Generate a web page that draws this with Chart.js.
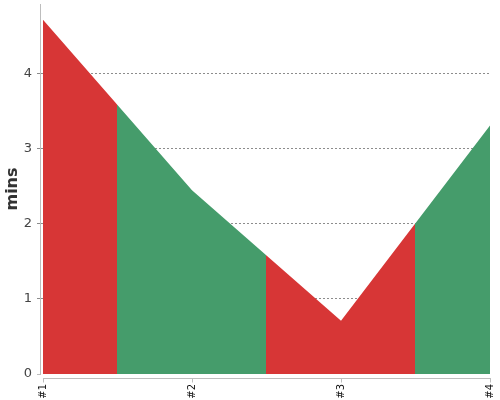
<!DOCTYPE html>
<html>
<head>
<meta charset="utf-8">
<script src="https://cdn.jsdelivr.net/npm/chart.js@4/dist/chart.umd.min.js"></script>
<style>
  html, body { margin: 0; padding: 0; background: #fff; }
  #wrap { width: 500px; height: 400px; }
</style>
</head>
<body>
<div id="wrap"><canvas id="chart"></canvas></div>
<script>
    // chart data
    const categories = ['#1', '#2', '#3', '#4'];
    const minutes = [4.72, 2.45, 0.71, 3.31];
    const bandColors = ['#d73636', '#459c6b', '#d73636', '#459c6b'];
    const yTicks = [0, 1, 2, 3, 4];

    const AXIS_COLOR = '#bdbdbd';

    // fill colour changes half way between categories
    function bandFill(context) {
        const chart = context.chart;
        const area = chart.chartArea;
        const xs = chart.scales.x;
        if (!area || !xs) return bandColors[0];
        const g = chart.ctx.createLinearGradient(area.left, 0, area.right, 0);
        const w = area.right - area.left;
        for (let i = 0; i < categories.length; i++) {
            const from = i === 0 ? area.left : (xs.getPixelForTick(i - 1) + xs.getPixelForTick(i)) / 2;
            const to = i === categories.length - 1 ? area.right : (xs.getPixelForTick(i) + xs.getPixelForTick(i + 1)) / 2;
            g.addColorStop(Math.max(0, Math.min(1, (from - area.left) / w)), bandColors[i]);
            g.addColorStop(Math.max(0, Math.min(1, (to - area.left) / w)), bandColors[i]);
        }
        return g;
    }

    const axisLines = {
        id: 'axisLines',
        afterDraw(chart) {
            const ctx = chart.ctx;
            const a = chart.chartArea;
            const xs = chart.scales.x;
            const ys = chart.scales.y;
            ctx.save();
            ctx.strokeStyle = AXIS_COLOR;
            ctx.lineWidth = 1;
            ctx.beginPath();
            // y axis, a little left of the plot
            ctx.moveTo(a.left - 2.5, a.top);
            ctx.lineTo(a.left - 2.5, a.bottom + 1);
            // zero tick
            const y0 = Math.round(ys.getPixelForValue(0)) + 0.5;
            ctx.moveTo(a.left - 6, y0);
            ctx.lineTo(a.left - 2, y0);
            // x axis, a little below the plot
            const yx = a.bottom + 4.5;
            ctx.moveTo(a.left, yx);
            ctx.lineTo(a.right + 1, yx);
            for (let i = 0; i < categories.length; i++) {
                const px = Math.round(xs.getPixelForTick(i)) + 0.5;
                ctx.moveTo(px, yx);
                ctx.lineTo(px, yx + 4);
            }
            ctx.stroke();
            ctx.restore();
        }
    };

    new Chart(document.getElementById('chart').getContext('2d'), {
        type: 'line',
        data: {
            labels: categories,
            datasets: [{
                data: minutes,
                fill: 'origin',
                backgroundColor: bandFill,
                borderWidth: 0,
                borderColor: 'rgba(0,0,0,0)',
                pointRadius: 0,
                tension: 0
            }]
        },
        options: {
            responsive: true,
            maintainAspectRatio: false,
            animation: false,
            layout: { padding: { left: 0, right: 10, top: 4, bottom: 0 } },
            plugins: {
                legend: { display: false },
                tooltip: { enabled: false }
            },
            scales: {
                x: {
                    offset: false,
                    grid: { display: false, drawTicks: false },
                    border: { display: false },
                    ticks: {
                        maxRotation: 90,
                        minRotation: 90,
                        padding: 10,
                        color: '#111',
                        font: { family: 'DejaVu Sans', size: 10 }
                    },
                    afterFit(scale) {
                        scale.height = 26;
                        scale.paddingLeft = 0;
                        scale.paddingRight = 0;
                    }
                },
                y: {
                    min: 0,
                    max: 4.93,
                    z: 1,
                    grid: {
                        color: (c) => (c.tick && c.tick.value === 0) ? 'rgba(0,0,0,0)' : 'rgba(0,0,0,0.45)',
                        lineWidth: 1,
                        tickLength: 6
                    },
                    border: { display: false, dash: [2, 2] },
                    ticks: {
                        stepSize: 1,
                        padding: 5,
                        color: '#444',
                        font: { family: 'DejaVu Sans', size: 13 }
                    },
                    afterBuildTicks(scale) {
                        scale.ticks = yTicks.map(v => ({ value: v }));
                    },
                    title: {
                        display: true,
                        text: 'mins',
                        color: '#333',
                        padding: { top: 3, bottom: 0 },
                        font: { family: 'DejaVu Sans', size: 16, weight: 'bold' }
                    },
                    afterFit(scale) {
                        scale.width = 43;
                        scale.paddingTop = 0;
                        scale.paddingBottom = 0;
                    }
                }
            }
        },
        plugins: [axisLines]
    });
</script>
</body>
</html>
